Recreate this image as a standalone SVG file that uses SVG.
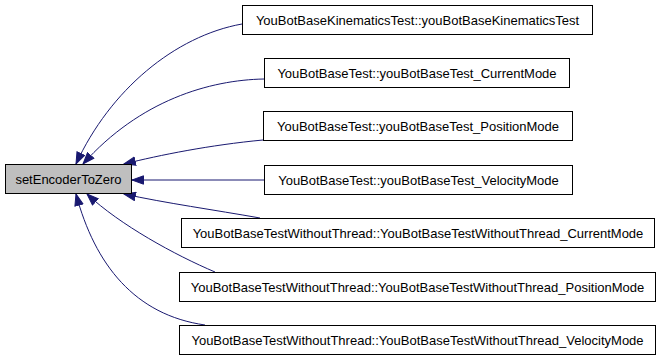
<svg xmlns="http://www.w3.org/2000/svg" width="661" height="360" viewBox="0 0 661 360">
  <style>
    .node rect { fill: #ffffff; stroke: #000000; stroke-width: 1; }
    .node.current rect { fill: #bfbfbf; }
    .node text { font-family: "Liberation Sans", Arial, sans-serif; font-size: 13px; fill: #000000; text-anchor: middle; dominant-baseline: central; }
    .edge { fill: none; stroke: #191970; stroke-width: 1; marker-end: url(#arrow); }
  </style>
  <defs>
    <marker id="arrow" markerUnits="userSpaceOnUse" markerWidth="13" markerHeight="10" refX="12" refY="5" orient="auto">
      <path d="M0.5,0.8 L12,5 L0.5,9.2 z" fill="#191970" stroke="#191970" stroke-width="1"/>
    </marker>
  </defs>
  <rect width="661" height="360" fill="#ffffff"/>

  <g id="edges">
    <path class="edge" d="M242,24 C175,36 110,90 76,164"/>
    <path class="edge" d="M264,79 C210,80 140,100 83,164"/>
    <path class="edge" d="M263,140 C210,145 160,155 124,164"/>
    <path class="edge" d="M264,180 L132,180"/>
    <path class="edge" d="M260,218 C215,210 165,203 124,194"/>
    <path class="edge" d="M215,272 C175,255 120,225 87,194"/>
    <path class="edge" d="M205,325 C135,315 95,265 76,194"/>
  </g>

  <g id="setEncoderToZero" class="node current">
    <rect x="5.5" y="164.5" width="126" height="29"/>
    <text x="68.5" y="179">setEncoderToZero</text>
  </g>
  <g id="kinematicsTest" class="node">
    <rect x="242.5" y="5.5" width="350" height="29"/>
    <text x="417.5" y="20">YouBotBaseKinematicsTest::youBotBaseKinematicsTest</text>
  </g>
  <g id="currentMode" class="node">
    <rect x="264.5" y="58.5" width="305" height="29"/>
    <text x="417" y="73">YouBotBaseTest::youBotBaseTest_CurrentMode</text>
  </g>
  <g id="positionMode" class="node">
    <rect x="263.5" y="111.5" width="309" height="29"/>
    <text x="418" y="126">YouBotBaseTest::youBotBaseTest_PositionMode</text>
  </g>
  <g id="velocityMode" class="node">
    <rect x="264.5" y="165.5" width="308" height="29"/>
    <text x="418.5" y="180">YouBotBaseTest::youBotBaseTest_VelocityMode</text>
  </g>
  <g id="withoutThreadCurrentMode" class="node">
    <rect x="181.5" y="218.5" width="473" height="29"/>
    <text x="418" y="233">YouBotBaseTestWithoutThread::YouBotBaseTestWithoutThread_CurrentMode</text>
  </g>
  <g id="withoutThreadPositionMode" class="node">
    <rect x="179.5" y="272.5" width="476" height="29"/>
    <text x="417.5" y="287">YouBotBaseTestWithoutThread::YouBotBaseTestWithoutThread_PositionMode</text>
  </g>
  <g id="withoutThreadVelocityMode" class="node">
    <rect x="179.5" y="325.5" width="476" height="29"/>
    <text x="417.5" y="340">YouBotBaseTestWithoutThread::YouBotBaseTestWithoutThread_VelocityMode</text>
  </g>
</svg>
